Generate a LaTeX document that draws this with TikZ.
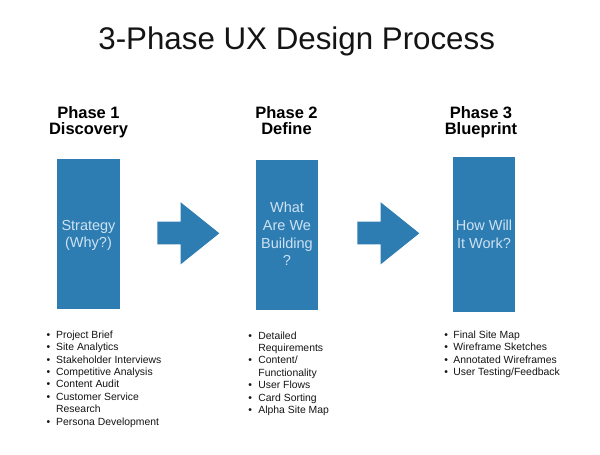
\documentclass[tikz,border=0pt]{standalone}
\usepackage{fontspec}
\setmainfont{Liberation Sans}
\definecolor{boxblue}{RGB}{46,125,178}
\definecolor{boxtext}{RGB}{205,226,242}
\definecolor{ink}{RGB}{20,20,20}
\begin{document}
\begin{tikzpicture}[x=1pt,y=-1pt,
  phasebox/.style={fill=boxblue,draw=none},
  blockarrow/.style={fill=boxblue,draw=none},
  heading/.style={anchor=base,inner sep=0pt,text=black,font=\fontsize{16.5}{16.7}\selectfont\bfseries},
  boxlabel/.style={anchor=base,inner sep=0pt,text=boxtext,font=\fontsize{14.5}{17.7}\selectfont},
  itemlist/.style={anchor=base west,inner sep=0pt,text=ink,font=\fontsize{10.4}{12.4}\selectfont}]
\useasboundingbox (0,0) rectangle (600,455);
\fill[white] (0,0) rectangle (600,455);

% title
\node[anchor=base,inner sep=0pt,font=\fontsize{31.3}{36}\selectfont,text=ink] (title) at (296.7,49.3) {3-Phase UX Design Process};

% headings
\node[heading] (h1) at (88.5,118) {\begin{tabular}[t]{@{}c@{}}Phase 1\\Discovery\end{tabular}};
\node[heading] (h2) at (286.5,118) {\begin{tabular}[t]{@{}c@{}}Phase 2\\Define\end{tabular}};
\node[heading] (h3) at (481,118) {\begin{tabular}[t]{@{}c@{}}Phase 3\\Blueprint\end{tabular}};

% boxes
\fill[phasebox] (57,159) rectangle (120,309);
\fill[phasebox] (256,160) rectangle (318,310);
\fill[phasebox] (453,157) rectangle (515,312);
\coordinate (b1) at (88.5,234);
\coordinate (b2) at (287,235);
\coordinate (b3) at (484,234.5);

% box labels
\node[boxlabel] (t1) at (88.5,230) {\begin{tabular}[t]{@{}c@{}}Strategy\\(Why?)\end{tabular}};
\node[boxlabel] (t2) at (287,212.7) {\begin{tabular}[t]{@{}c@{}}What\\Are We\\Building\\?\end{tabular}};
\node[boxlabel] (t3) at (484,230.7) {\begin{tabular}[t]{@{}c@{}}How Will\\It Work?\end{tabular}};

% block arrows
\fill[blockarrow] (157.3,221.7) -- (180.7,221.7) -- (180.7,202.3) -- (219.3,233.3)
  -- (180.7,264.3) -- (180.7,244.3) -- (157.3,244.3) -- cycle;
\fill[blockarrow] (357.3,221.7) -- (380.7,221.7) -- (380.7,202.3) -- (419.3,233.3)
  -- (380.7,264.3) -- (380.7,244.3) -- (357.3,244.3) -- cycle;

% lists
\node[itemlist] (l1) at (46.5,338.3) {\begin{tabular}[t]{@{}p{9.5pt}@{}l@{}}
\textbullet & Project Brief\\
\textbullet & Site Analytics\\
\textbullet & Stakeholder Interviews\\
\textbullet & Competitive Analysis\\
\textbullet & Content Audit\\
\textbullet & Customer Service\\
 & Research\\
\textbullet & Persona Development
\end{tabular}};
\node[itemlist] (l2) at (248.2,339) {\begin{tabular}[t]{@{}p{10pt}@{}l@{}}
\textbullet & Detailed\\
 & Requirements\\
\textbullet & Content/\\
 & Functionality\\
\textbullet & User Flows\\
\textbullet & Card Sorting\\
\textbullet & Alpha Site Map
\end{tabular}};
\node[itemlist] (l3) at (444.2,338.3) {\begin{tabular}[t]{@{}p{9pt}@{}l@{}}
\textbullet & Final Site Map\\
\textbullet & Wireframe Sketches\\
\textbullet & Annotated Wireframes\\
\textbullet & User Testing/Feedback
\end{tabular}};
\end{tikzpicture}
\end{document}
